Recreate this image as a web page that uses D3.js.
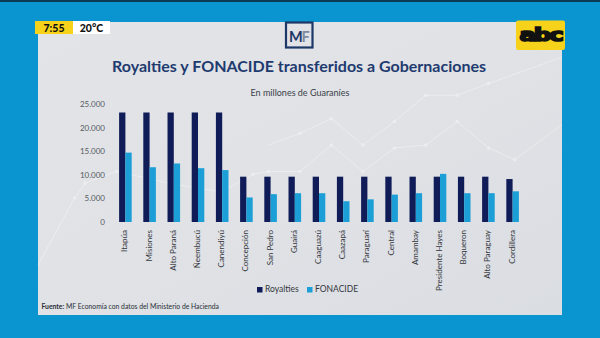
<!DOCTYPE html>
<html>
<head>
<meta charset="utf-8">
<script src="https://cdn.jsdelivr.net/npm/d3@7"></script>
<style>
  html, body { margin: 0; padding: 0; background: #0a94d0; }
  svg { display: block; }
</style>
</head>
<body>
<svg id="chart" width="600" height="338"></svg>
<script>
// Transfers to departmental governments, millions of guaraníes
const categories = ["Itapúa", "Misiones", "Alto Paraná", "Ñeembucú", "Canendiyú", "Concepción",
  "San Pedro", "Guairá", "Caaguazú", "Caazapá", "Paraguarí", "Central", "Amambay",
  "Presidente Hayes", "Boqueron", "Alto Paraguay", "Cordillera"];
const royalties = [23200, 23200, 23200, 23200, 23200, 9600, 9600, 9600, 9600, 9600, 9600,
  9600, 9600, 9600, 9600, 9600, 9100];
const fonacide = [14700, 11600, 12400, 11400, 11000, 5200, 5900, 6100, 6100, 4400, 4800,
  5800, 6100, 10200, 6100, 6100, 6500];
const seriesNames = ["Royalties", "FONACIDE"];
const seriesColors = ["#101c58", "#1b9fd6"];
const yTicks = [0, 5000, 10000, 15000, 20000, 25000];

// faint backdrop motif (panel fractions)
const motifUpper = [[0.44, 0.42], [0.50, 0.38], [0.56, 0.33], [0.62, 0.42], [0.68, 0.34],
  [0.74, 0.25], [0.80, 0.25], [0.86, 0.21], [1.0, 0.12]];
const motifLower = [[0.0, 0.83], [0.07, 0.60], [0.09, 0.55], [0.15, 0.51], [0.25, 0.55],
  [0.35, 0.58], [0.41, 0.52], [0.44, 0.51], [0.50, 0.51], [0.56, 0.42], [0.62, 0.51],
  [0.68, 0.43], [0.74, 0.42], [0.80, 0.34], [0.86, 0.43], [0.91, 0.47], [1.0, 0.35]];

const FONT = "Lato, 'Open Sans', sans-serif";
const svg = d3.select("#chart");

// broadcast frame
svg.append("rect").attr("x", 0).attr("y", 0).attr("width", 600).attr("height", 338).attr("fill", "#0a94d0");
svg.append("rect").attr("x", 0).attr("y", 0).attr("width", 600).attr("height", 2).attr("fill", "#0b3a55");

const defs = svg.append("defs");
const grad = defs.append("linearGradient").attr("id", "panelGrad")
  .attr("x1", "0").attr("y1", "0").attr("x2", "1").attr("y2", "1");
grad.append("stop").attr("offset", "0").attr("stop-color", "#e2e4e8");
grad.append("stop").attr("offset", "0.5").attr("stop-color", "#e0e2e6");
grad.append("stop").attr("offset", "1").attr("stop-color", "#dadde2");

const panel = { x: 38, y: 22, w: 524, h: 293 };
svg.append("rect").attr("x", panel.x).attr("y", panel.y).attr("width", panel.w).attr("height", panel.h)
  .attr("fill", "url(#panelGrad)");

// backdrop motif
const px = d3.scaleLinear().domain([0, 1]).range([panel.x, panel.x + panel.w]);
const py = d3.scaleLinear().domain([0, 1]).range([panel.y, panel.y + panel.h]);
const motif = svg.append("g").attr("opacity", 0.38);
[motifUpper, motifLower].forEach(pts => {
  motif.append("path")
    .attr("d", d3.line().x(d => px(d[0])).y(d => py(d[1]))(pts))
    .attr("fill", "none").attr("stroke", "#ffffff").attr("stroke-width", 1);
  motif.selectAll(null).data(pts.slice(1, -1)).join("circle")
    .attr("cx", d => px(d[0])).attr("cy", d => py(d[1])).attr("r", 1.8)
    .attr("fill", "#ffffff");
});

// clock and temperature tag
svg.append("rect").attr("x", 35).attr("y", 21).attr("width", 38).attr("height", 13).attr("fill", "#f6d31a");
svg.append("rect").attr("x", 73).attr("y", 21).attr("width", 37).attr("height", 13).attr("fill", "#ffffff");
svg.append("text").attr("x", 54).attr("y", 31.5).attr("text-anchor", "middle")
  .attr("font-family", FONT).attr("font-weight", 900).attr("font-size", 10.5).attr("fill", "#111").text("7:55");
svg.append("text").attr("x", 91.5).attr("y", 31.5).attr("text-anchor", "middle")
  .attr("font-family", FONT).attr("font-weight", 900).attr("font-size", 10.5).attr("fill", "#111").text("20°C");

// channel logo
svg.append("rect").attr("x", 516).attr("y", 20.5).attr("width", 49).attr("height", 29.5).attr("rx", 2)
  .attr("fill", "#f6d31a");
svg.append("text").attr("x", 540.5).attr("y", 41).attr("text-anchor", "middle")
  .attr("font-family", "'DejaVu Sans', sans-serif").attr("font-weight", 700).attr("font-size", 17)
  .attr("letter-spacing", -1.5).attr("fill", "#111").attr("stroke", "#111").attr("stroke-width", 1.6)
  .attr("textLength", 42).attr("lengthAdjust", "spacingAndGlyphs").text("abc");

// MF badge
svg.append("rect").attr("x", 286).attr("y", 22.5).attr("width", 26.5).attr("height", 25)
  .attr("fill", "none").attr("stroke", "#1d3868").attr("stroke-width", 2.2);
svg.append("text").attr("x", 289).attr("y", 42).attr("font-family", FONT).attr("font-weight", 700)
  .attr("font-size", 14.5).attr("fill", "#1d3868").text("M");
svg.append("text").attr("x", 301.5).attr("y", 42).attr("font-family", FONT).attr("font-weight", 700)
  .attr("font-size", 14.5).attr("fill", "#7f8a9c").text("F");

// headings
svg.append("text").attr("x", 299).attr("y", 72).attr("text-anchor", "middle")
  .attr("font-family", FONT).attr("font-weight", 700).attr("font-size", 16).attr("fill", "#1e3a6e")
  .attr("textLength", 374).attr("lengthAdjust", "spacingAndGlyphs")
  .text("Royalties y FONACIDE transferidos a Gobernaciones");
svg.append("text").attr("x", 300).attr("y", 96).attr("text-anchor", "middle")
  .attr("font-family", FONT).attr("font-size", 9).attr("fill", "#3a3f48")
  .text("En millones de Guaraníes");

// scales
const x0 = d3.scaleBand().domain(categories).range([107, 531]).paddingInner(0.48).paddingOuter(0.5);
const x1 = d3.scaleBand().domain(seriesNames).range([0, x0.bandwidth()]).padding(0);
const y = d3.scaleLinear().domain([0, 25000]).range([222, 104]);

const locale = d3.formatLocale({ decimal: ",", thousands: ".", grouping: [3], currency: ["", ""] });
const fmt = locale.format(",d");

// y axis (labels only)
const yAxis = svg.append("g").attr("transform", "translate(107,0)")
  .call(d3.axisLeft(y).tickValues(yTicks).tickFormat(fmt).tickSize(0).tickPadding(2));
yAxis.select(".domain").remove();
yAxis.selectAll("text").attr("font-family", FONT).attr("font-size", 8).attr("fill", "#55595f");

// bars
const rows = categories.map((c, i) => ({ cat: c, vals: [royalties[i], fonacide[i]] }));
const groups = svg.append("g").selectAll("g").data(rows).join("g")
  .attr("transform", d => `translate(${x0(d.cat)},0)`);
groups.selectAll("rect").data(d => d.vals.map((v, k) => ({ key: seriesNames[k], v, k })))
  .join("rect")
  .attr("x", d => x1(d.key))
  .attr("width", x1.bandwidth())
  .attr("y", d => y(d.v))
  .attr("height", d => y(0) - y(d.v))
  .attr("fill", d => seriesColors[d.k]);

// category labels, rotated
svg.append("g").selectAll("text").data(categories).join("text")
  .attr("transform", d => `translate(${x0(d) + x0.bandwidth() / 2},230) rotate(-90)`)
  .attr("text-anchor", "end").attr("dominant-baseline", "middle")
  .attr("font-family", FONT).attr("font-size", 8).attr("fill", "#33373d")
  .text(d => d);

// legend
const legend = svg.append("g").attr("transform", "translate(257,290)");
const legItems = legend.selectAll("g").data(seriesNames).join("g")
  .attr("transform", (d, i) => `translate(${i * 50},0)`);
legItems.append("rect").attr("x", 0).attr("y", -3).attr("width", 5.5).attr("height", 5.5)
  .attr("fill", (d, i) => seriesColors[i]);
legItems.append("text").attr("x", 8).attr("y", 0).attr("dominant-baseline", "middle")
  .attr("font-family", FONT).attr("font-size", 8.5).attr("fill", "#33373d").text(d => d);

// source note
const src = svg.append("text").attr("x", 41.5).attr("y", 309)
  .attr("font-family", FONT).attr("font-size", 6.8).attr("fill", "#2a2e35");
src.append("tspan").attr("font-weight", 700).text("Fuente:");
src.append("tspan").text(" MF Economía con datos del Ministerio de Hacienda");
</script>
</body>
</html>
